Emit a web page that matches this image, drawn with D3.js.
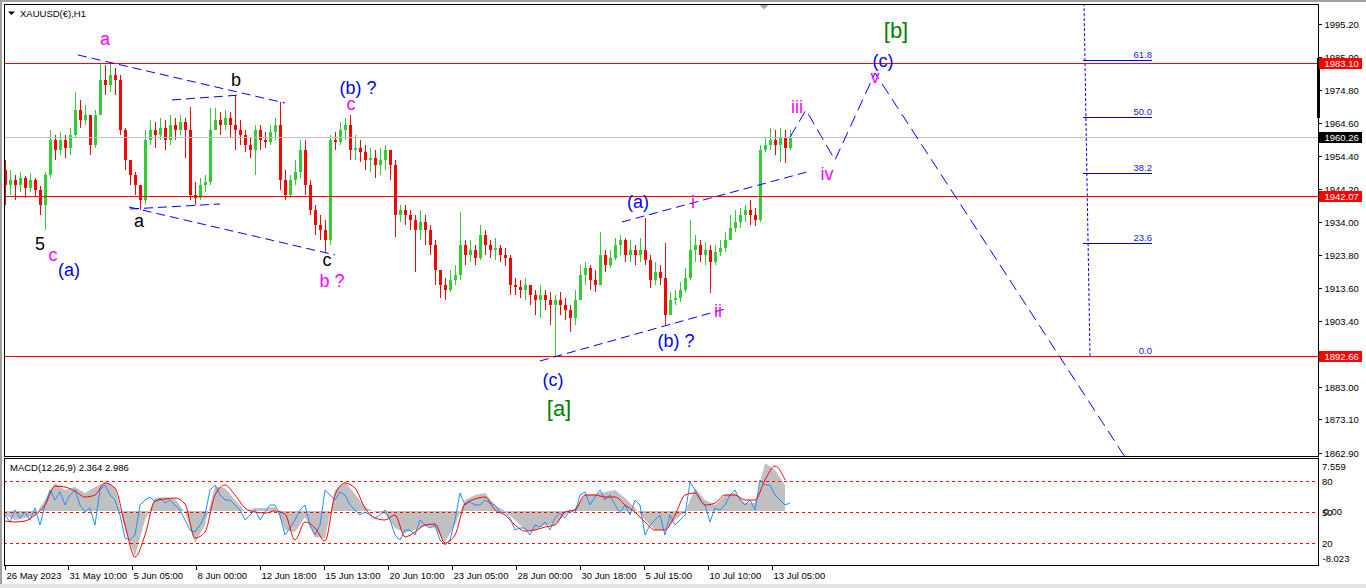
<!DOCTYPE html>
<html><head><meta charset="utf-8">
<script src="https://cdn.jsdelivr.net/npm/d3@7"></script>
<style>
body{margin:0;background:#fff;overflow:hidden;}
svg{display:block;}
text{font-family:"Liberation Sans",Arial,sans-serif;}
</style>
</head><body>
<svg id="chart" width="1366" height="588"></svg>
<script>
// ---------------- DATA ----------------
const symbolTitle = "XAUUSD(€),H1";
const macdTitle = "MACD(12,26,9) 2.364 2.986";
const barHours = 5;            // each drawn bar summarises 5 hourly bars
const firstOpen = 1950.1;
const closes = [1945.4,1947.0,1945.4,1947.6,1944.5,1947.0,1943.9,1939.2,1948.5,1959.3,
1956.3,1959.3,1956.9,1960.9,1968.6,1965.5,1967.1,1957.8,1967.1,1977.9,
1976.3,1979.4,1977.9,1962.4,1953.2,1948.5,1945.4,1940.8,1959.3,1962.4,
1960.9,1963.1,1959.3,1964.0,1962.4,1964.9,1962.4,1942.3,1941.4,1945.4,
1946.4,1962.4,1965.5,1964.0,1966.1,1964.0,1962.4,1960.9,1957.8,1956.3,
1962.4,1959.3,1958.8,1961.8,1964.0,1947.0,1942.3,1947.0,1949.5,1956.3,
1945.4,1937.7,1933.1,1931.5,1928.4,1959.3,1958.7,1962.4,1964.0,1956.3,
1956.9,1955.6,1953.2,1953.8,1951.6,1953.2,1956.3,1951.6,1936.2,1937.7,
1936.2,1934.6,1931.5,1934.0,1931.5,1926.9,1919.2,1914.5,1913.0,1916.1,
1917.6,1926.9,1923.8,1925.3,1922.9,1930.0,1926.9,1925.3,1926.0,1923.8,
1922.9,1914.5,1914.0,1913.0,1914.5,1911.4,1909.9,1911.4,1909.9,1908.3,
1909.9,1908.3,1906.8,1904.3,1909.9,1917.6,1919.8,1916.1,1914.5,1923.8,
1920.7,1922.9,1926.9,1928.4,1923.8,1925.3,1923.8,1925.3,1922.3,1916.1,
1918.5,1916.7,1905.2,1909.9,1910.5,1913.0,1916.7,1925.3,1926.9,1923.8,
1925.3,1921.6,1924.7,1926.0,1928.4,1932.1,1934.0,1936.2,1937.7,1936.2,
1934.6,1956.3,1957.8,1959.3,1957.8,1960.0,1956.9,1960.26];
const highs = [1953.2,1950.1,1948.5,1949.5,1948.2,1949.1,1947.6,1945.1,1949.5,1962.4,
1960.9,1961.8,1960.9,1963.1,1974.2,1971.7,1970.2,1967.1,1968.6,1983.2,
1982.5,1983.5,1981.6,1979.4,1963.1,1953.2,1949.5,1945.4,1962.4,1965.5,
1964.9,1966.1,1965.5,1967.1,1966.1,1967.1,1966.1,1969.5,1946.4,1947.6,
1948.5,1969.2,1969.2,1968.0,1968.6,1968.0,1973.3,1965.5,1962.4,1960.0,
1964.0,1964.0,1961.8,1964.0,1966.1,1971.1,1950.1,1948.5,1953.2,1959.3,
1959.3,1947.0,1939.2,1936.2,1934.6,1960.9,1961.8,1964.9,1966.1,1967.1,
1960.9,1959.3,1957.8,1956.9,1956.3,1956.9,1957.8,1955.6,1953.2,1939.2,
1939.2,1937.7,1936.2,1937.7,1936.2,1933.1,1928.4,1919.2,1916.7,1919.2,
1920.7,1937.1,1928.4,1928.4,1926.9,1933.1,1931.5,1928.4,1929.0,1926.9,
1926.0,1923.8,1916.7,1916.1,1916.7,1914.5,1913.0,1914.5,1913.0,1912.4,
1911.4,1912.4,1910.5,1908.3,1913.0,1920.7,1921.6,1920.7,1919.2,1930.9,
1925.3,1925.3,1929.0,1930.0,1929.0,1928.4,1926.9,1929.0,1935.2,1923.8,
1921.6,1920.7,1927.5,1912.4,1913.0,1915.5,1919.8,1934.6,1930.0,1928.4,
1927.8,1926.9,1926.9,1928.4,1930.9,1936.2,1937.7,1938.3,1939.2,1940.8,
1938.3,1957.8,1960.0,1963.1,1962.4,1963.1,1962.4,1962.4];
const lows = [1939.2,1942.3,1940.8,1943.3,1941.4,1943.3,1942.0,1936.2,1931.5,1947.6,
1953.2,1954.7,1953.8,1954.7,1960.0,1963.1,1964.0,1954.7,1956.9,1967.1,
1973.3,1974.2,1973.3,1960.9,1950.1,1945.4,1942.3,1937.7,1939.2,1957.8,
1956.9,1959.3,1956.3,1957.8,1959.3,1960.9,1953.8,1940.8,1939.2,1940.8,
1943.3,1945.4,1962.4,1960.9,1962.4,1960.0,1956.3,1957.8,1955.6,1953.8,
1948.5,1956.3,1956.9,1957.8,1959.3,1943.9,1940.8,1941.4,1945.4,1947.6,
1942.3,1936.2,1930.0,1928.4,1924.7,1926.9,1956.3,1957.8,1959.3,1953.2,
1953.2,1952.5,1950.1,1949.5,1947.6,1948.5,1950.1,1947.0,1929.4,1934.0,
1933.1,1931.5,1918.5,1928.4,1926.9,1923.8,1914.5,1910.5,1909.9,1912.4,
1914.5,1916.1,1920.7,1921.6,1920.7,1922.3,1923.8,1922.9,1922.3,1921.6,
1920.4,1911.4,1911.4,1910.5,1909.9,1908.3,1905.2,1904.3,1906.8,1902.2,
1892.66,1905.2,1903.7,1900.0,1902.2,1909.9,1914.5,1913.0,1912.4,1914.5,
1918.5,1919.8,1922.3,1923.8,1921.6,1921.6,1920.7,1921.6,1920.7,1913.6,
1914.5,1914.5,1902.2,1906.2,1908.3,1909.3,1912.4,1916.1,1921.6,1921.6,
1920.7,1912.0,1920.7,1923.5,1924.7,1928.4,1930.9,1932.1,1934.0,1933.1,
1932.8,1934.0,1955.6,1956.3,1954.7,1952.5,1952.2,1956.3];

const macdHours = 10;          // MACD samples every 10 hourly bars
const macdMain = [-0.62,-1.40,-1.09,-0.62,1.71,4.36,3.27,3.74,2.80,3.74,
4.52,3.74,-2.96,-7.01,-1.40,2.02,2.18,1.87,-0.16,-4.98,
-2.18,3.89,3.58,1.71,0.0,0.47,0.47,0.62,-2.96,-3.27,
-0.93,-4.05,-4.21,3.27,4.52,2.65,0.62,-0.16,-0.47,-2.65,
-3.43,-2.96,-2.34,-2.65,-4.83,-2.18,1.71,2.49,2.80,0.93,
0.0,-1.40,-2.96,-2.96,-2.18,-2.18,-0.62,0.47,2.49,2.65,
2.96,3.27,2.02,0.47,-1.40,-2.96,-2.96,-1.40,-0.16,3.58,
1.71,0.93,2.49,2.80,1.25,1.25,7.5,6.39,4.05];
const macdSignal = [-1.56,-1.71,-1.56,-0.62,0.93,3.89,3.74,3.12,2.18,2.49,
4.36,3.58,-2.18,-7.17,-3.74,1.56,1.87,2.02,1.09,-4.21,
-3.27,2.49,4.05,2.49,0.47,-0.16,-0.31,0.0,-0.47,-4.52,
-1.71,-2.65,-4.67,2.49,4.36,3.58,0.47,-1.09,-1.40,-0.62,
-4.05,-3.27,-2.18,-2.02,-4.98,-3.74,1.09,1.87,2.18,0.16,
-0.62,-2.18,-3.12,-2.96,-2.49,-2.18,-0.16,0.16,2.49,2.49,
2.18,2.18,0.93,-0.16,-1.71,-2.96,-2.96,-0.62,2.49,2.80,
0.93,1.25,2.49,2.49,1.71,1.71,4.83,7.01,4.83];
const oscLine = [47.1,40.3,51.9,44.2,50.0,42.3,53.9,37.4,56.8,71.3,
61.6,69.4,56.8,66.5,71.3,56.8,50.0,53.9,37.4,71.3,
76.1,66.5,61.6,47.1,24.8,22.9,27.7,56.8,61.6,64.5,
59.7,63.5,58.7,61.6,56.8,51.9,42.3,32.6,30.6,37.4,
47.1,71.3,76.1,66.5,61.6,61.6,56.8,51.9,42.3,47.1,
51.9,42.3,50.0,56.8,56.8,47.1,27.7,34.5,42.3,51.9,
56.8,37.4,27.7,37.4,71.3,66.5,61.6,69.4,66.5,56.8,
51.9,47.1,50.0,47.1,44.2,47.1,51.9,42.3,27.7,22.9,
32.6,32.6,27.7,42.3,37.4,34.5,37.4,22.9,18.1,22.9,
42.3,68.4,56.8,59.7,56.8,56.8,61.6,58.7,56.8,50.0,
50.0,44.2,32.6,34.5,34.5,27.7,37.4,35.5,40.3,32.6,
44.2,49.0,44.2,51.9,49.0,66.5,69.4,56.8,64.5,71.3,
61.6,66.5,56.8,49.0,56.8,47.1,61.6,56.8,27.7,37.4,
42.3,47.1,27.7,47.1,37.4,42.3,47.1,79.0,71.3,61.6,
56.8,40.3,53.9,51.9,56.8,66.5,71.3,61.6,56.8,61.6,
51.9,81.0,76.1,76.1,66.5,61.6,56.8,58.7];
const macdMin = -8.023, macdMax = 7.559;
const oscLevels = [80, 50, 20];

const priceTicks = [1995.20,1985.00,1974.80,1964.60,1954.40,1944.20,1934.00,1923.80,1913.60,1903.40,1893.20,1883.00,1873.10,1862.90];
const timeLabels = ["26 May 2023","31 May 10:00","5 Jun 05:00","8 Jun 00:00","12 Jun 18:00","15 Jun 13:00","20 Jun 10:00","23 Jun 05:00","28 Jun 00:00","30 Jun 18:00","5 Jul 15:00","10 Jul 10:00","13 Jul 05:00"];
const timeLabelHours = [0,63,127,191,255,319,383,447,511,575,639,703,767];

const levelPrices = [1983.10, 1942.07, 1892.66];
const lastPrice = 1960.26;

const fibLow = 1892.66, fibHigh = 2040.6;
const fibLevels = [0.0, 23.6, 38.2, 50.0, 61.8];

// trend lines: [hourA, priceA, hourB, priceB]
const trendLines = [
  [73,1985.63,280,1970.81],
  [124,1938.7,330,1923.9],
  [167,1971.74,235,1973.28],
  [125,1938.08,215,1939.63],
  [617,1934.07,802,1949.51],
  [535,1891.16,720,1907.21]
];
// projected path
const projection = [[785,1960.26],[801,1968.65],[830,1953.21],[870,1980.07],[1120,1861.5]];

// wave labels: text, hour, price (baseline), colour key
const waveLabels = [
  ["a",100,1988.72,"m"],["b",231,1976.06,"k"],["(b) ?",353,1973.59,"b"],["c",346,1968.65,"m"],
  ["5",35,1925.43,"k"],["c",48,1922.03,"m"],["(a)",64,1917.4,"b"],["a",134,1932.53,"k"],
  ["c",322,1920.49,"k"],["b ?",327,1914.0,"m"],["(c)",548,1883.44,"b"],["[a]",554,1874.18,"g"],
  ["(a)",633,1938.39,"b"],["i",688,1938.39,"m"],["(b) ?",671,1895.48,"b"],["ii",713,1904.74,"m"],
  ["iii",792,1967.72,"m"],["iv",822,1947.04,"m"],["v",870,1976.98,"m"],["(c)",878,1981.92,"b"],
  ["[b]",891,1990.88,"g"]
];

// ---------------- LAYOUT ----------------
const W = 1366, H = 588;
const L = 4, R = 1318, mainTop = 4, mainBot = 456, subTop = 458, subBot = 565;
const colors = {m:"#ff00ff", k:"#000000", b:"#0000ff", g:"#008000"};
const up = "#32cd32", dn = "#ff0000";

const svg = d3.select("#chart");
const x = d3.scaleLinear().domain([0, 1313]).range([5, 1318]);
const y = d3.scaleLinear().domain([1862.9, 1995.2]).range([452.5, 24]);
const ym = d3.scaleLinear().domain([macdMin, macdMax]).range([562.5, 462.5]);
const yo = d3.scaleLinear().domain([20, 80]).range([543, 481]);
const px = v => Math.round(v) + 0.5;

svg.append("rect").attr("width", W).attr("height", H).attr("fill", "#fff");
// outer window frame
svg.append("rect").attr("x",0).attr("y",0).attr("width",W).attr("height",2).attr("fill","#a0a0a0");
svg.append("rect").attr("x",0).attr("y",0).attr("width",2).attr("height",H).attr("fill","#a0a0a0");
svg.append("rect").attr("x",0).attr("y",584).attr("width",W).attr("height",4).attr("fill","#e4e4e4");

const defs = svg.append("defs");
defs.append("clipPath").attr("id","clipMain").append("rect").attr("x",L+1).attr("y",mainTop+1).attr("width",R-L-1).attr("height",mainBot-mainTop-1);
defs.append("clipPath").attr("id","clipSub").append("rect").attr("x",L+1).attr("y",subTop+1).attr("width",R-L-1).attr("height",subBot-subTop-1);

const gMain = svg.append("g").attr("clip-path","url(#clipMain)");
const gSub = svg.append("g").attr("clip-path","url(#clipSub)");

// ---- candles
const bars = closes.map((c, i) => {
  const o = i === 0 ? firstOpen : closes[i - 1];
  return {i, o, c, h: Math.max(highs[i], o, c), l: Math.min(lows[i], o, c)};
});
const cg = gMain.append("g").attr("shape-rendering","crispEdges");
bars.forEach(b => {
  const cx = Math.round(x(b.i * barHours));
  const col = b.c >= b.o ? up : dn;
  cg.append("line").attr("x1",cx+0.5).attr("x2",cx+0.5).attr("y1",y(b.h)).attr("y2",y(b.l)).attr("stroke",col).attr("stroke-width",1);
  const top = Math.min(y(b.o), y(b.c)), hh = Math.max(1, Math.abs(y(b.o) - y(b.c)));
  cg.append("rect").attr("x",cx-1).attr("y",top).attr("width",3).attr("height",hh).attr("fill",col);
});

// ---- fibonacci
const fibPrice = lv => fibLow + (fibHigh - fibLow) * lv / 100;
gMain.append("line").attr("x1",x(1085)).attr("y1",y(fibLow)).attr("x2",x(1079)).attr("y2",y(2001.2))
  .attr("stroke","#0000ff").attr("stroke-width",1).attr("stroke-dasharray","3,2");
fibLevels.forEach(lv => {
  const yy = px(y(fibPrice(lv)));
  gMain.append("line").attr("x1",x(1078)).attr("x2",x(1147)).attr("y1",yy).attr("y2",yy)
    .attr("stroke","#0000cc").attr("stroke-width",1).attr("shape-rendering","crispEdges");
  gMain.append("text").attr("x",x(1147)).attr("y",yy-2.5).attr("text-anchor","end")
    .attr("font-size","9.5px").attr("fill","#1818c8").text(lv.toFixed(1));
});

// ---- horizontal levels
gMain.append("line").attr("x1",L).attr("x2",R).attr("y1",px(y(lastPrice))).attr("y2",px(y(lastPrice)))
  .attr("stroke","#c0c0c0").attr("shape-rendering","crispEdges");
levelPrices.forEach(p => {
  gMain.append("line").attr("x1",L).attr("x2",R).attr("y1",px(y(p))).attr("y2",px(y(p)))
    .attr("stroke","#ff0000").attr("stroke-width",1).attr("shape-rendering","crispEdges");
});

// ---- trend lines
trendLines.forEach(t => {
  gMain.append("line").attr("x1",x(t[0])).attr("y1",y(t[1])).attr("x2",x(t[2])).attr("y2",y(t[3]))
    .attr("stroke","#0000ff").attr("stroke-width",1).attr("stroke-dasharray","9,5");
});
gMain.append("path").attr("d", d3.line().x(d => x(d[0])).y(d => y(d[1]))(projection))
  .attr("fill","none").attr("stroke","#0000ff").attr("stroke-width",1).attr("stroke-dasharray","12,6");

// ---- wave labels
waveLabels.forEach(w => {
  const big = w[3] === "g";
  gMain.append("text").attr("x",x(w[1])).attr("y",y(w[2])).attr("text-anchor","middle")
    .attr("font-size", big ? "22px" : "18px").attr("fill", colors[w[3]]).text(w[0]);
});

// ---- title
svg.append("path").attr("d","M8,11.5 L15,11.5 L11.5,15 Z").attr("fill","#000");
svg.append("text").attr("x",20).attr("y",16.5).attr("font-size","9.5px").attr("fill","#000").text(symbolTitle);
// small scroll marker
svg.append("path").attr("d","M759.5,5 L768.5,5 L764,9.5 Z").attr("fill","#a8a8a8");

// ---------------- SUB WINDOW ----------------
gSub.append("path").datum(macdMain)
  .attr("d", d3.area().x((d,j) => x(j * macdHours)).y0(ym(0)).y1(d => ym(d)))
  .attr("fill","#c0c0c0");
oscLevels.forEach(lv => {
  gSub.append("line").attr("x1",L).attr("x2",R).attr("y1",px(yo(lv))).attr("y2",px(yo(lv)))
    .attr("stroke","#ff0000").attr("stroke-dasharray","3,3").attr("shape-rendering","crispEdges");
});
gSub.append("path").datum(oscLine)
  .attr("d", d3.line().x((d,i) => x(i * barHours)).y(d => yo(d)))
  .attr("fill","none").attr("stroke","#1e90ff").attr("stroke-width",1);
gSub.append("path").datum(macdSignal)
  .attr("d", d3.line().curve(d3.curveMonotoneX).x((d,j) => x(j * macdHours)).y(d => ym(d)))
  .attr("fill","none").attr("stroke","#ff0000").attr("stroke-width",1);
svg.append("text").attr("x",10).attr("y",470.5).attr("font-size","9.5px").attr("fill","#000").text(macdTitle);

// ---------------- FRAMES ----------------
const fr = svg.append("g").attr("fill","none").attr("stroke","#000").attr("shape-rendering","crispEdges");
fr.append("rect").attr("x",L+0.5).attr("y",mainTop+0.5).attr("width",R-L).attr("height",mainBot-mainTop);
fr.append("rect").attr("x",L+0.5).attr("y",subTop+0.5).attr("width",R-L).attr("height",subBot-subTop);

// ---- price axis
const ax = svg.append("g");
priceTicks.forEach(p => {
  const yy = px(y(p));
  ax.append("line").attr("x1",R).attr("x2",R+4).attr("y1",yy).attr("y2",yy).attr("stroke","#000").attr("shape-rendering","crispEdges");
  ax.append("text").attr("x",R+6.5).attr("y",yy+3.5).attr("font-size","9.5px").attr("fill","#000").text(p.toFixed(2));
});
// thick marker on the scale
ax.append("rect").attr("x",R-1).attr("y",58).attr("width",3).attr("height",60).attr("fill","#000");
// price tags
function tag(p, bg) {
  const yy = Math.round(y(p));
  ax.append("rect").attr("x",R+1).attr("y",yy-5).attr("width",43).attr("height",11).attr("fill",bg);
  ax.append("text").attr("x",R+6.5).attr("y",yy+3.5).attr("font-size","9.5px").attr("fill","#fff").text(p.toFixed(2));
}
levelPrices.forEach(p => tag(p, "#ff0000"));
tag(lastPrice, "#000");

// ---- sub axis
const subLabels = [[macdMax.toFixed(3), ym(macdMax)+7, 1322], [String(oscLevels[0]), yo(80)+3.5, 1322],
  ["0.00", ym(0)+3.5, 1323.5], [String(oscLevels[1]), yo(50)+3.5, 1322],
  [String(oscLevels[2]), yo(20)+3.5, 1322], [macdMin.toFixed(3), ym(macdMin)-1, 1322.5]];
subLabels.forEach(s => ax.append("text").attr("x",s[2]).attr("y",s[1]).attr("font-size","9.5px").attr("fill","#000").text(s[0]));

// ---- time axis
timeLabels.forEach((t, k) => {
  const xx = px(x(timeLabelHours[k]));
  ax.append("line").attr("x1",xx).attr("x2",xx).attr("y1",subBot).attr("y2",subBot+5).attr("stroke","#000").attr("shape-rendering","crispEdges");
  ax.append("text").attr("x",xx+1).attr("y",578.5).attr("font-size","9.5px").attr("fill","#000").text(t);
});
</script>
</body></html>
